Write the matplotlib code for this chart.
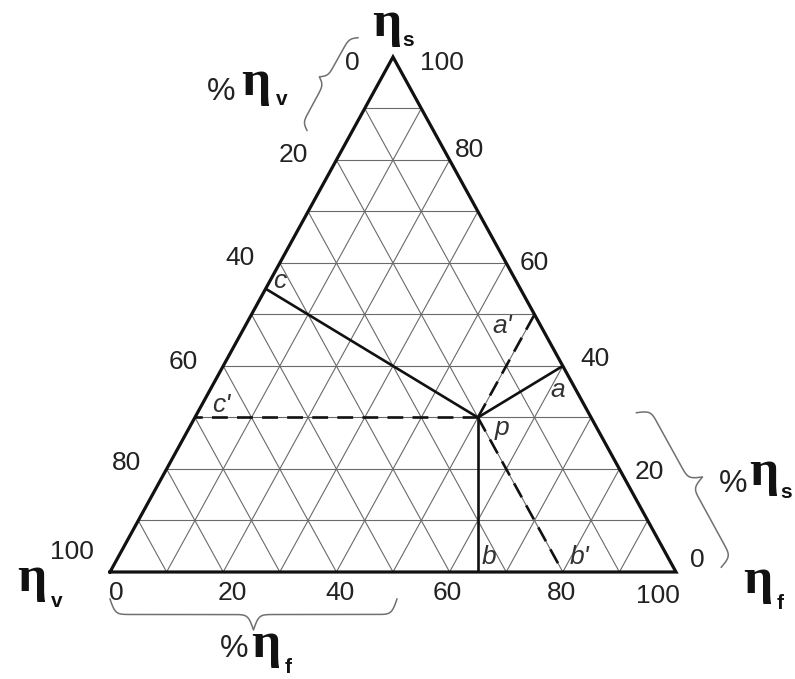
import numpy as np
import matplotlib
matplotlib.use('Agg')
import matplotlib.pyplot as plt

# ---------------- data ----------------
grid_levels = [10, 20, 30, 40, 50, 60, 70, 80, 90]
tick_values = [0, 20, 40, 60, 80, 100]
tick_labels = ['0', '20', '40', '60', '80', '100']
# point p composition in percent (eta_f, eta_s, eta_v)
p_f, p_s, p_v = 50, 30, 20

# ---------------- layout ----------------
W, H = 795, 679
SX, SY = 566.0, 594.7            # pixels per cartesian unit
X0PX, Y0PX = 110.0, 572.0        # pixel position of eta_v vertex
SQ3 = np.sqrt(3) / 2

fig = plt.figure(figsize=(W / 100, H / 100), dpi=100)
ax = fig.add_axes([0, 0, 1, 1])
ax.set_xlim(-X0PX / SX, (W - X0PX) / SX)
ax.set_ylim(-(H - Y0PX) / SY, Y0PX / SY)
ax.axis('off')


def cart(f, s, v):
    t = f + s + v
    f, s = f / t, s / t
    return f + s / 2, s * SQ3


def seg(p0, p1, **kw):
    x0, y0 = cart(*p0)
    x1, y1 = cart(*p1)
    ax.plot([x0, x1], [y0, y1], **kw)


GRID = dict(color='#6a6a6a', lw=0.8, solid_capstyle='butt', zorder=1)
for k in grid_levels:
    seg((0, k, 100 - k), (100 - k, k, 0), **GRID)      # eta_s const
    seg((k, 0, 100 - k), (k, 100 - k, 0), **GRID)      # eta_f const
    seg((100 - k, 0, k), (0, 100 - k, k), **GRID)      # eta_v const

# triangle outline
verts = [(0, 0, 100), (100, 0, 0), (0, 100, 0), (0, 0, 100)]
xs, ys = zip(*[cart(*v) for v in verts])
ax.plot(xs, ys, color='#111111', lw=2.3, solid_joinstyle='miter', zorder=3)

# point p, perpendicular feet, and grid-parallel hits
P = (p_f, p_s, p_v)
A = (p_f + p_v / 2, p_s + p_v / 2, 0)
B = (p_f + p_s / 2, 0, p_v + p_s / 2)
C = (0, p_s + p_f / 2, p_v + p_f / 2)
A2 = (p_f, p_s + p_v, 0)
B2 = (p_f + p_s, 0, p_v)
C2 = (0, p_s, p_v + p_f)

SOLID = dict(color='#111111', lw=1.9, zorder=4, solid_capstyle='butt')
DASH = dict(color='#111111', lw=1.9, zorder=4, ls=(0, (6, 3.5)), dash_capstyle='butt')
for q in (A, B, C):
    seg(P, q, **SOLID)
for q in (A2, B2, C2):
    seg(P, q, **DASH)

# point labels
pt_labels = [('a', A, (-5, -24)), ("a'", A2, (-32, -12)), ('p', P, (24, -11)),
             ('b', B, (11, 15)), ("b'", B2, (17, 15)), ('c', C, (14, 8)),
             ("c'", C2, (26, 12))]
for txt, q, off in pt_labels:
    ax.annotate(txt, cart(*q), xytext=off, textcoords='offset pixels',
                ha='center', va='center', fontsize=19, style='italic',
                family='Liberation Sans', color='#333333', zorder=5)

# tick labels
TK = dict(ha='center', va='center', fontsize=19, family='Liberation Sans', color='#222222')
bottom_off = [(6, -21), (9, -21), (4, -21), (-2, -21), (-1, -21), (-18, -24)]
right_off = [(21, 12), (30, -3), (32, 7), (28, 0), (20, 10), (49, -6)]
left_off = [(-41, -6), (-43, 5), (-40, 5), (-40, 4), (-40, 6), (-38, 20)]
for t, lab, ob, orr, ol in zip(tick_values, tick_labels, bottom_off, right_off, left_off):
    ax.annotate(lab, cart(t, 0, 100 - t), xytext=ob, textcoords='offset pixels', **TK)
    ax.annotate(lab, cart(100 - t, t, 0), xytext=orr, textcoords='offset pixels', **TK)
    ax.annotate(lab, cart(0, 100 - t, t), xytext=ol, textcoords='offset pixels', **TK)


# curly braces
def brace(q0, q1, off, depth, n=300):
    x0, y0 = cart(*q0)
    x1, y1 = cart(*q1)
    p0 = np.array([x0 * SX, y0 * SY])
    p1 = np.array([x1 * SX, y1 * SY])
    d = p1 - p0
    L = np.hypot(*d)
    u = d / L
    nrm = np.array([-u[1], u[0]])
    cx, cy = cart(100, 100, 100)
    cen = np.array([cx * SX, cy * SY])
    if np.dot((p0 + p1) / 2 - cen, nrm) < 0:
        nrm = -nrm
    beta = L / 2.6
    t = np.linspace(0, 0.5, n)
    y = 1 / (1 + np.exp(-beta * (t - t[0]))) + 1 / (1 + np.exp(-beta * (t - t[-1])))
    y = y - 0.5
    t = np.concatenate([t, 1 - t[::-1]])
    y = np.concatenate([y, y[::-1]])
    pts = p0[None, :] + np.outer(t * L, u) + np.outer(off + depth * y, nrm)
    ax.plot(pts[:, 0] / SX, pts[:, 1] / SY, color='#707070', lw=1.1, zorder=2)


brace((0, 0, 100), (50.7, 0, 49.3), 27, 31)
brace((103, -3, 0), (73, 27, 0), 42, 27)
brace((0, 100, 0), (0, 82, 18), 40, 15)


# eta labels (pixel positions)
def ftxt(x, y, s, **kw):
    fig.text(x / W, 1 - y / H, s, **kw)


ETA = dict(fontsize=37, family='Liberation Serif', weight='bold', color='#111111',
           ha='center', va='baseline')
SUB = dict(fontsize=15, family='Liberation Sans', weight='bold', color='#111111',
           ha='center', va='baseline')
PCT = dict(fontsize=23, family='Liberation Sans', color='#222222', ha='center', va='baseline')

# top eta_s
ftxt(387, 36, 'η', **ETA); ftxt(408, 46, 's', **SUB)
# bottom-left eta_v
ftxt(32, 591, 'η', **ETA); ftxt(57, 607, 'v', **SUB)
# bottom-right eta_f
ftxt(758, 593, 'η', **ETA); ftxt(780, 609, 'f', **SUB)
# %eta_v
ftxt(221, 100, '%', **PCT); ftxt(256, 95, 'η', **ETA); ftxt(282, 105, 'v', **SUB)
# %eta_s
ftxt(733, 492, '%', **PCT); ftxt(764, 485, 'η', **ETA); ftxt(786, 498, 's', **SUB)
# %eta_f
ftxt(234, 657, '%', **PCT); ftxt(266, 657, 'η', **ETA); ftxt(288, 673, 'f', **SUB)

fig.savefig('out.png', dpi=100, facecolor='white')
